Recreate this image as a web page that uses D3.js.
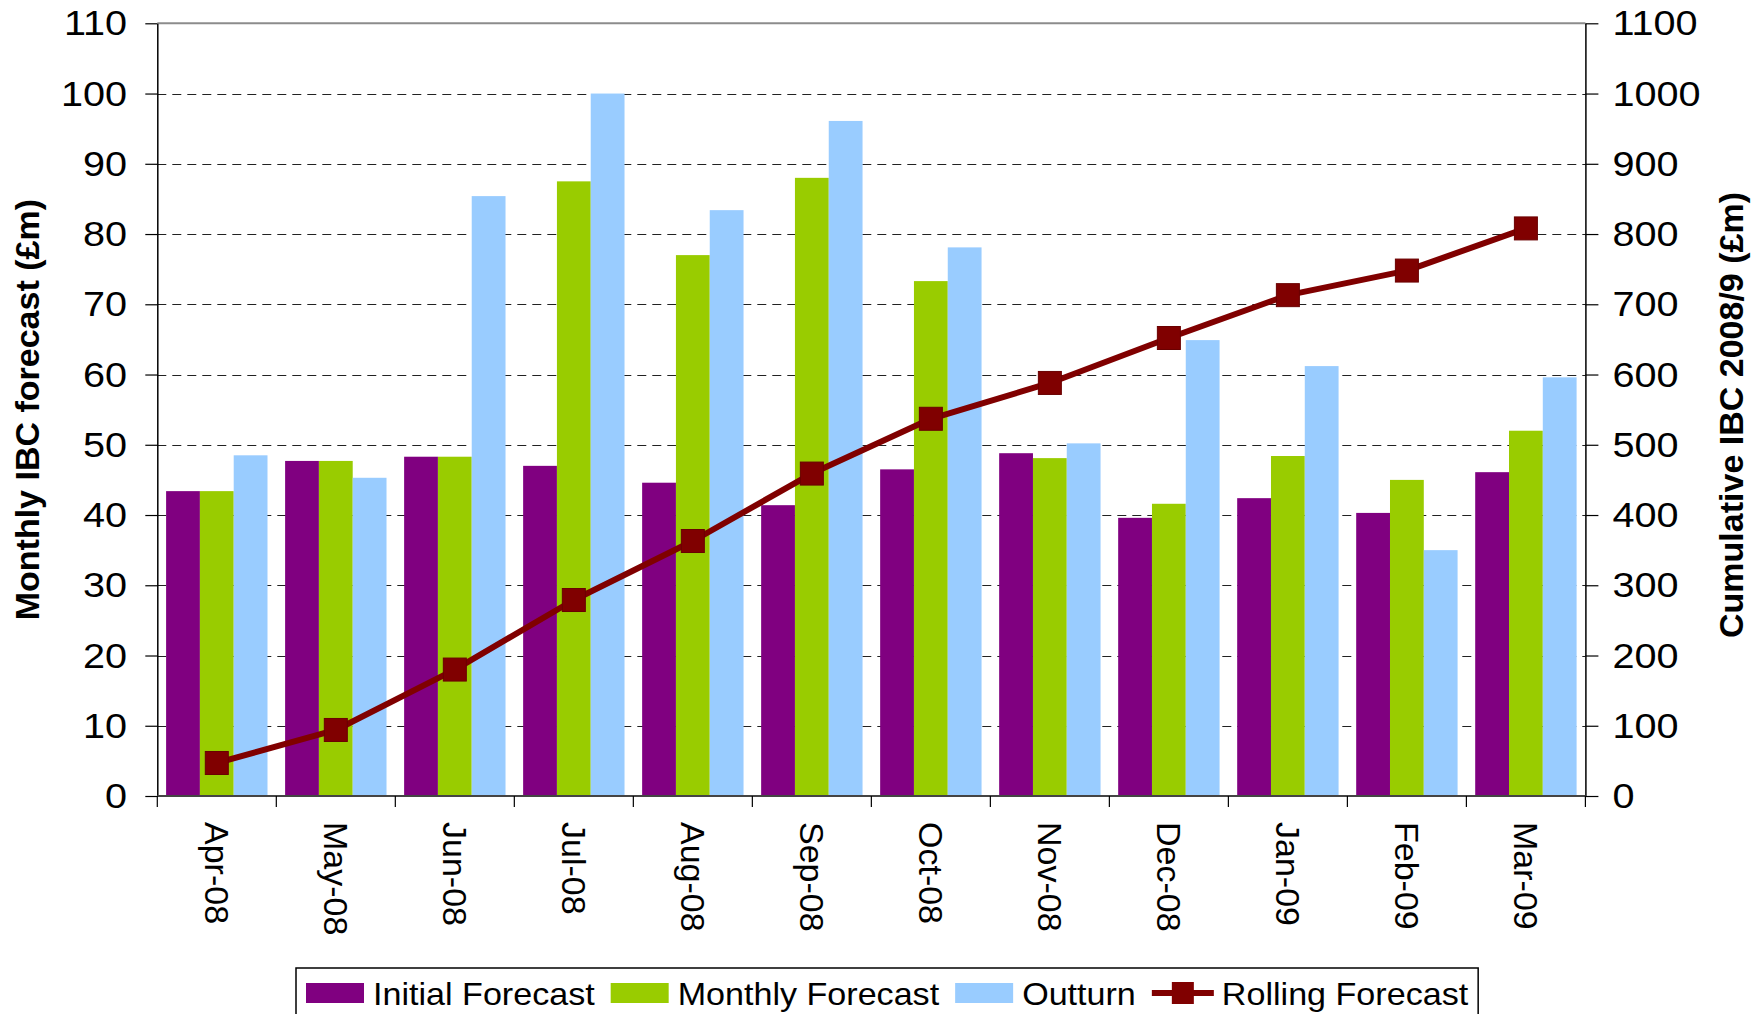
<!DOCTYPE html>
<html><head><meta charset="utf-8">
<script src="https://cdn.jsdelivr.net/npm/d3@7"></script>
<style>
body{margin:0;background:#fff}
svg{display:block;font-family:"Liberation Sans",Arial,sans-serif}
</style>
</head><body>
<svg id="chart" width="1764" height="1014"></svg>
<script>
const months = ["Apr-08","May-08","Jun-08","Jul-08","Aug-08","Sep-08","Oct-08","Nov-08","Dec-08","Jan-09","Feb-09","Mar-09"];
const initialForecast = [43.4,47.7,48.3,47.0,44.6,41.4,46.5,48.8,39.6,42.4,40.3,46.1];
const monthlyForecast = [43.4,47.7,48.3,87.5,77.0,88.0,73.3,48.1,41.6,48.4,45.0,52.0];
const outturn = [48.5,45.3,85.4,100.0,83.4,96.1,78.1,50.2,64.9,61.2,35.0,59.6];
const rollingForecast = [47,94,180,279,363,459,537,588,652,713,748,808];
const leftTicks = [0,10,20,30,40,50,60,70,80,90,100,110];
const rightTicks = [0,100,200,300,400,500,600,700,800,900,1000,1100];
const barSeries = ["Initial Forecast","Monthly Forecast","Outturn"];
const lineSeries = "Rolling Forecast";
const leftTitle = "Monthly IBC forecast (£m)";
const rightTitle = "Cumulative IBC 2008/9 (£m)";

const barData = [initialForecast, monthlyForecast, outturn];
const barColors = ["#800080","#99CC00","#99CCFF"];
const lineColor = "#800000";
const SX = 1.1; // horizontal glyph stretch seen in the reference

const svg = d3.select("#chart");
const L = 157.3, R = 1585.4, T = 23.3, B = 796;

const x = d3.scaleBand().domain(months).range([L, R]).padding(0);
const bw = x.bandwidth();
const xs = d3.scaleBand().domain(d3.range(barSeries.length)).range([bw*0.074, bw*0.926]).padding(0);
const yL = d3.scaleLinear().domain([0,110]).range([B, T]);
const yR = d3.scaleLinear().domain([0,1100]).range([B, T]);

// gridlines
svg.append("g").selectAll("line").data(leftTicks.filter(d => d > 0 && d < 110)).join("line")
  .attr("x1", L).attr("x2", R).attr("y1", d => Math.round(yL(d))+0.5).attr("y2", d => Math.round(yL(d))+0.5)
  .attr("stroke", "#222").attr("stroke-width", 1).attr("stroke-dasharray", "9,6");
// top border
svg.append("line").attr("x1", L).attr("x2", R).attr("y1", yL(110)).attr("y2", yL(110))
  .attr("stroke", "#8c8c8c").attr("stroke-width", 2);

// bars
const gBars = svg.append("g");
barData.forEach((vals, si) => {
  gBars.append("g").selectAll("rect").data(vals).join("rect")
    .attr("x", (d,i) => x(months[i]) + xs(si))
    .attr("width", xs.bandwidth())
    .attr("y", d => yL(d))
    .attr("height", d => yL(0) - yL(d))
    .attr("fill", barColors[si]);
});

// left axis
const axL = svg.append("g").attr("transform", `translate(${L},0)`)
  .call(d3.axisLeft(yL).tickValues(leftTicks).tickFormat(d3.format("d")).tickSize(12).tickPadding(18).tickSizeOuter(0));
axL.select(".domain").attr("stroke", "#000").attr("stroke-width", 1.5);
axL.selectAll(".tick line").attr("stroke", "#000").attr("stroke-width", 1.2);
axL.selectAll(".tick text").attr("font-size", 36).attr("fill", "#000")
  .attr("font-family", "Liberation Sans, Arial, sans-serif")
  .attr("x", -30.3 / SX).attr("transform", `scale(${SX},1)`);

// right axis
const axR = svg.append("g").attr("transform", `translate(${R},0)`)
  .call(d3.axisRight(yR).tickValues(rightTicks).tickFormat(d3.format("d")).tickSize(13).tickPadding(14).tickSizeOuter(0));
axR.select(".domain").attr("stroke", "#000").attr("stroke-width", 1.5);
axR.selectAll(".tick line").attr("stroke", "#000").attr("stroke-width", 1.2);
axR.selectAll(".tick text").attr("font-size", 36).attr("fill", "#000")
  .attr("font-family", "Liberation Sans, Arial, sans-serif")
  .attr("x", 27 / SX).attr("transform", `scale(${SX},1)`);

// bottom axis
const gx = svg.append("g");
gx.append("line").attr("x1", L).attr("x2", R).attr("y1", B).attr("y2", B)
  .attr("stroke", "#444").attr("stroke-width", 2);
const bounds = months.map(m => x(m)).concat([R]);
gx.selectAll("line.tk").data(bounds).join("line").attr("class","tk")
  .attr("x1", d => d).attr("x2", d => d).attr("y1", B).attr("y2", B + 11)
  .attr("stroke", "#000").attr("stroke-width", 1.2);
gx.selectAll("text").data(months).join("text")
  .attr("transform", d => `translate(${x(d) + bw/2},${B + 26}) rotate(90)`)
  .attr("dy", "0.35em").attr("text-anchor", "start")
  .attr("font-size", 34).attr("fill", "#000").text(d => d);

// rolling forecast line
const line = d3.line().x((d,i) => x(months[i]) + bw/2).y(d => yR(d));
svg.append("path").datum(rollingForecast).attr("d", line)
  .attr("fill", "none").attr("stroke", lineColor).attr("stroke-width", 6).attr("stroke-linejoin", "round");
const ms = 23;
svg.append("g").selectAll("rect").data(rollingForecast).join("rect")
  .attr("x", (d,i) => x(months[i]) + bw/2 - ms/2).attr("y", d => yR(d) - ms/2)
  .attr("width", ms).attr("height", ms).attr("fill", lineColor).attr("stroke", "#6a0000").attr("stroke-width", 1);

// titles
svg.append("text").attr("transform", `translate(27,${(T+B)/2}) rotate(-90)`)
  .attr("text-anchor", "middle").attr("dy", "0.35em").attr("font-weight", "bold").attr("font-size", 34)
  .text(leftTitle);
svg.append("text").attr("transform", `translate(1731,415) rotate(-90)`)
  .attr("text-anchor", "middle").attr("dy", "0.35em").attr("font-weight", "bold").attr("font-size", 34)
  .text(rightTitle);

// legend
const lg = svg.append("g");
const box = lg.append("rect").attr("x", 296).attr("y", 968).attr("height", 80)
  .attr("fill", "#fff").attr("stroke", "#000").attr("stroke-width", 1.5);
let cx = 306;
const base = 1004.5;
function legendText(xp, s) {
  const t = lg.append("text").attr("transform", `translate(${xp},${base}) scale(${SX},1)`)
    .attr("font-size", 31).text(s);
  return t.node().getComputedTextLength() * SX;
}
barSeries.forEach((name, i) => {
  lg.append("rect").attr("x", cx).attr("y", 983).attr("width", 58).attr("height", 20).attr("fill", barColors[i]);
  const w = legendText(cx + 67, name);
  cx = cx + 67 + w + 16;
});
lg.append("line").attr("x1", cx).attr("x2", cx + 62).attr("y1", 993).attr("y2", 993)
  .attr("stroke", lineColor).attr("stroke-width", 6);
lg.append("rect").attr("x", cx + 31 - 11).attr("y", 993 - 11).attr("width", 22).attr("height", 22).attr("fill", lineColor);
const lw = legendText(cx + 70, lineSeries);
box.attr("width", cx + 70 + lw + 10 - 296);
</script>
</body></html>
